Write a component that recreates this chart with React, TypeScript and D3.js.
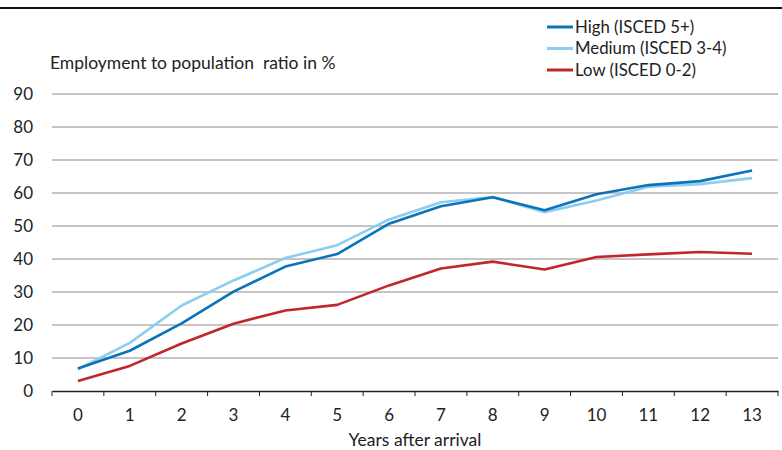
import React, { useEffect, useRef } from 'react';
import * as d3 from 'd3';

const years = ['0', '1', '2', '3', '4', '5', '6', '7', '8', '9', '10', '11', '12', '13'];
const high = [6.8, 12.2, 20.5, 30.1, 37.7, 41.5, 50.7, 56, 58.7, 54.8, 59.6, 62.4, 63.6, 66.8];
const medium = [6.6, 14.6, 25.9, 33.5, 40.3, 44.2, 52, 57.2, 58.8, 54.2, 57.7, 61.9, 62.7, 64.5];
const low = [3.0, 7.6, 14.4, 20.4, 24.4, 26.1, 32, 37.1, 39.2, 36.8, 40.6, 41.4, 42.1, 41.6];
const yTicks = [0, 10, 20, 30, 40, 50, 60, 70, 80, 90];

const seriesNames = ['High (ISCED 5+)', 'Medium (ISCED 3-4)', 'Low (ISCED 0-2)'];
const seriesColors = ['#0C73B9', '#8DCDF0', '#C0272D'];

const font = '"Source Sans Pro", Lato, sans-serif';

const App: React.FC = () => {
  const svgRef = useRef<SVGSVGElement | null>(null);

  useEffect(() => {
    const svg = d3.select(svgRef.current);
    svg.selectAll('*').remove();

    const width = 782;
    const left = 52;
    const right = 778;

    const x = d3.scaleBand<string>().domain(years).range([left, right]);
    const y = d3.scaleLinear().domain([0, 90]).range([391, 94]);

    // top rule
    svg.append('line')
      .attr('x1', 0).attr('x2', width)
      .attr('y1', 8).attr('y2', 8)
      .attr('stroke', '#111').attr('stroke-width', 2);

    // gridlines
    svg.append('g')
      .selectAll('line')
      .data(yTicks.filter((d) => d > 0))
      .join('line')
      .attr('x1', left).attr('x2', right)
      .attr('y1', (d) => y(d)).attr('y2', (d) => y(d))
      .attr('stroke', '#8a8a8a').attr('stroke-width', 1);

    // y tick labels
    svg.append('g')
      .selectAll('text')
      .data(yTicks)
      .join('text')
      .attr('x', 33)
      .attr('y', (d) => y(d))
      .attr('dy', '0.35em')
      .attr('text-anchor', 'end')
      .attr('font-family', font)
      .attr('font-size', 17)
      .attr('fill', '#222')
      .text((d) => d);

    // x axis
    const xAxis = d3.axisBottom(x).tickSize(0).tickPadding(18);
    const gx = svg.append('g')
      .attr('transform', `translate(0, ${y(0)})`)
      .call(xAxis);
    gx.select('.domain').attr('stroke', '#222').attr('stroke-width', 1.3);
    gx.selectAll('text')
      .attr('font-family', font)
      .attr('font-size', 17)
      .attr('fill', '#222');

    const edges = years.map((d) => x(d) as number).concat([right]);
    gx.selectAll('.edge')
      .data(edges)
      .join('line')
      .attr('class', 'edge')
      .attr('x1', (d) => d).attr('x2', (d) => d)
      .attr('y1', 0).attr('y2', 5)
      .attr('stroke', '#222').attr('stroke-width', 1);

    // axis titles
    svg.append('text')
      .attr('x', 50).attr('y', 69)
      .attr('font-family', font).attr('font-size', 17.5).attr('fill', '#222')
      .attr('xml:space', 'preserve')
      .text('Employment to population  ratio in %');

    svg.append('text')
      .attr('x', 415).attr('y', 446)
      .attr('text-anchor', 'middle')
      .attr('font-family', font).attr('font-size', 17.5).attr('fill', '#222')
      .text('Years after arrival');

    // lines
    const line = d3.line<number>()
      .x((d, i) => (x(years[i]) as number) + x.bandwidth() / 2)
      .y((d) => y(d));

    const series = [high, medium, low];
    const order = [2, 1, 0];
    order.forEach((k) => {
      svg.append('path')
        .datum(series[k])
        .attr('d', line)
        .attr('fill', 'none')
        .attr('stroke', seriesColors[k])
        .attr('stroke-width', 2.6)
        .attr('stroke-linejoin', 'round');
    });

    // legend
    const legend = svg.append('g');
    seriesNames.forEach((name, i) => {
      const ly = 27 + i * 21.5;
      legend.append('line')
        .attr('x1', 547).attr('x2', 573)
        .attr('y1', ly).attr('y2', ly)
        .attr('stroke', seriesColors[i]).attr('stroke-width', 3);
      legend.append('text')
        .attr('x', 575).attr('y', ly)
        .attr('dy', '0.35em')
        .attr('font-family', font).attr('font-size', 16.8).attr('fill', '#222')
        .text(name);
    });
  }, []);

  return (
    <svg
      ref={svgRef}
      width={782}
      height={450}
      style={{ position: 'absolute', left: 0, top: 0, background: '#fff' }}
    />
  );
};

export default App;
